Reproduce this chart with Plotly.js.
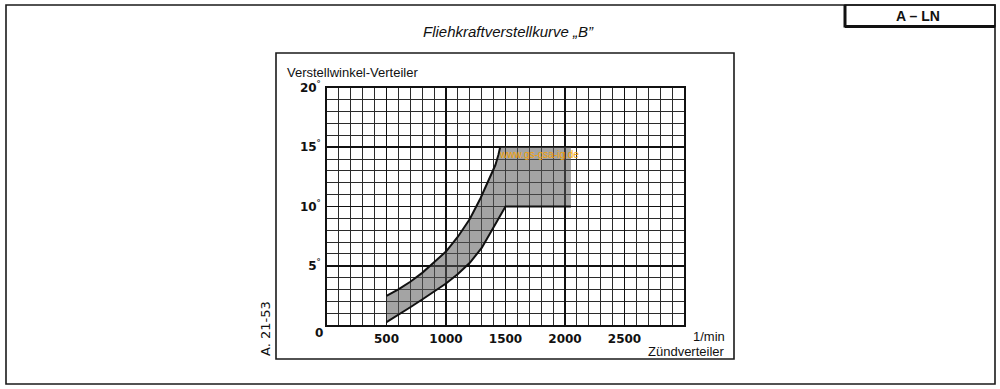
<!DOCTYPE html>
<html>
<head>
<meta charset="utf-8">
<script src="https://cdn.plot.ly/plotly-3.0.1.min.js"></script>
<style>
  html, body { margin: 0; padding: 0; background: #ffffff; }
  #chart { width: 1000px; height: 389px; }
</style>
</head>
<body>
<div id="chart"></div>
<script>
// ---- data ----
const rpmUpper = [500, 600, 700, 800, 900, 1000, 1100, 1200, 1290, 1370, 1415, 1440, 1455];
const degUpper = [2.45, 3.0, 3.65, 4.4, 5.3, 6.2, 7.45, 8.95, 10.7, 12.4, 13.5, 14.35, 15];
const rpmLower = [500, 600, 700, 800, 900, 1000, 1100, 1200, 1300, 1400, 1460, 1500];
const degLower = [0.25, 0.85, 1.5, 2.15, 2.8, 3.5, 4.3, 5.25, 6.5, 8.2, 9.3, 10];
const rectRpm = [1455, 2050];
const rectDeg = [10, 15];

const xTickVals = [500, 1000, 1500, 2000, 2500];
const xTickText = ['500', '1000', '1500', '2000', '2500'];
const yTickVals = [5, 10, 15, 20];
const yTickText = ['5<sup>°</sup>', '10<sup>°</sup>', '15<sup>°</sup>', '20<sup>°</sup>'];

// ---- page geometry helpers (pixel -> paper) ----
const W = 1000, H = 389;
const px = v => v / W;
const py = v => 1 - v / H;

const bandX = rpmUpper.concat([rectRpm[1], rectRpm[1]], rpmLower.slice().reverse());
const bandY = degUpper.concat([rectDeg[1], rectDeg[0]], degLower.slice().reverse());

const traces = [
  { x: bandX, y: bandY, type: 'scatter', mode: 'lines', fill: 'toself',
    fillcolor: 'rgba(90,90,90,0.55)', line: { width: 0, color: 'rgba(0,0,0,0)' },
    hoverinfo: 'skip', showlegend: false },
  { x: rpmUpper, y: degUpper, type: 'scatter', mode: 'lines',
    line: { color: '#111', width: 2 }, showlegend: false },
  { x: rpmLower.concat([rectRpm[1]]), y: degLower.concat([rectDeg[0]]), type: 'scatter', mode: 'lines',
    line: { color: '#111', width: 2 }, showlegend: false }
];

const tickFont = { family: 'DejaVu Sans', size: 12, color: '#111', weight: 'bold' };
const textFont = { family: 'Liberation Sans, Arial, sans-serif', size: 13, color: '#111' };

const layout = {
  width: W, height: H,
  margin: { l: 0, r: 0, t: 0, b: 0 },
  paper_bgcolor: '#ffffff', plot_bgcolor: '#ffffff',
  showlegend: false,
  xaxis: {
    domain: [px(327), px(684)], range: [0, 3000], fixedrange: true,
    tickmode: 'array', tickvals: xTickVals, ticktext: xTickText,
    ticks: '', tickfont: tickFont, ticklabelstandoff: 2,
    showgrid: true, gridcolor: '#111', gridwidth: 1.4,
    minor: { tickmode: 'linear', tick0: 0, dtick: 100, showgrid: true, gridcolor: '#2a2a2a', gridwidth: 1 },
    showline: true, linecolor: '#111', linewidth: 1.8, mirror: true, zeroline: false
  },
  yaxis: {
    domain: [py(325), py(88)], range: [0, 20], fixedrange: true,
    tickmode: 'array', tickvals: yTickVals, ticktext: yTickText,
    ticks: '', tickfont: tickFont, ticklabelstandoff: 2,
    showgrid: true, gridcolor: '#111', gridwidth: 1.6,
    minor: { tickmode: 'linear', tick0: 0, dtick: 1, showgrid: true, gridcolor: '#2a2a2a', gridwidth: 1 },
    showline: true, linecolor: '#111', linewidth: 1.8, mirror: true, zeroline: false
  },
  shapes: [
    // outer frame
    { type: 'rect', xref: 'paper', yref: 'paper', x0: px(6), x1: px(995), y0: py(384), y1: py(5),
      line: { color: '#1a1a1a', width: 1.6 } },
    // top-right label box
    { type: 'rect', xref: 'paper', yref: 'paper', x0: px(845), x1: px(995), y0: py(26.5), y1: py(5),
      line: { color: '#1a1a1a', width: 1.4 } },
    { type: 'line', xref: 'paper', yref: 'paper', x0: px(845), x1: px(845), y0: py(5), y1: py(27.5),
      line: { color: '#111', width: 3 } },
    { type: 'line', xref: 'paper', yref: 'paper', x0: px(845), x1: px(995), y0: py(26.5), y1: py(26.5),
      line: { color: '#111', width: 3 } },
    // inner frame
    { type: 'rect', xref: 'paper', yref: 'paper', x0: px(276), x1: px(734), y0: py(359), y1: py(53),
      line: { color: '#1a1a1a', width: 1.6 } }
  ],
  annotations: [
    { xref: 'paper', yref: 'paper', x: px(508), y: py(31.5), xanchor: 'center', yanchor: 'middle',
      text: 'Fliehkraftverstellkurve „B”', showarrow: false,
      font: { family: 'Liberation Sans, Arial, sans-serif', size: 15, color: '#111', style: 'italic' } },
    { xref: 'paper', yref: 'paper', x: px(918), y: py(16), xanchor: 'center', yanchor: 'middle',
      text: 'A – LN', showarrow: false,
      font: { family: 'Liberation Sans, Arial, sans-serif', size: 14, color: '#111', weight: 'bold' } },
    { xref: 'paper', yref: 'paper', x: px(285), y: py(73), xanchor: 'left', yanchor: 'middle',
      text: 'Verstellwinkel-Verteiler', showarrow: false, font: textFont },
    { xref: 'paper', yref: 'paper', x: px(319), y: py(332.5), xanchor: 'center', yanchor: 'middle',
      text: '0', showarrow: false, font: tickFont },
    { xref: 'paper', yref: 'paper', x: px(727), y: py(336), xanchor: 'right', yanchor: 'middle',
      text: '1/min', showarrow: false, font: textFont },
    { xref: 'paper', yref: 'paper', x: px(727), y: py(351), xanchor: 'right', yanchor: 'middle',
      text: 'Zündverteiler', showarrow: false, font: textFont },
    { xref: 'paper', yref: 'paper', x: px(265), y: py(329), xanchor: 'center', yanchor: 'middle',
      text: 'A. 21-53', textangle: -90, showarrow: false,
      font: { family: 'DejaVu Sans', size: 13, color: '#111' } },
    { xref: 'paper', yref: 'paper', x: px(497), y: py(154), xanchor: 'left', yanchor: 'middle',
      text: 'www.gs-gsa-ig.de', showarrow: false,
      font: { family: 'Liberation Sans, Arial, sans-serif', size: 10, color: '#f5a300' } }
  ]
};

Plotly.newPlot('chart', traces, layout, { staticPlot: true, displayModeBar: false });
</script>
</body>
</html>
